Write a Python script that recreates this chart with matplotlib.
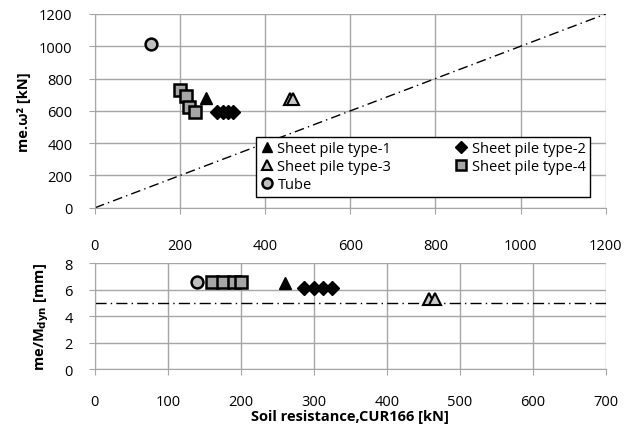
import matplotlib
matplotlib.use('Agg')
import matplotlib.pyplot as plt

# soil resistance CUR166 [kN] vs me.w^2 [kN] (top) and me/Mdyn [mm] (bottom)
type1_x = [261]
type1_top = [680]
type1_bot = [6.5]

type2_x = [287, 300, 313, 325]
type2_top = [594, 594, 594, 594]
type2_bot = [6.1, 6.1, 6.1, 6.1]

type3_x = [458, 466]
type3_top = [675, 675]
type3_bot = [5.3, 5.3]

type4_x = [200, 214, 222, 235]
type4_top = [730, 690, 625, 592]
type4_bot_x = [160, 175, 190, 200]
type4_bot = [6.6, 6.6, 6.6, 6.6]

tube_x_top = [132]
tube_top = [1015]
tube_x_bot = [140]
tube_bot = [6.6]

ref_line = [0, 1200]
bot_limit = 5

plt.rcParams['font.family'] = ['Open Sans', 'DejaVu Sans']
fig = plt.figure(figsize=(6.41, 4.27), dpi=100)
ax1 = fig.add_axes([0.148, 0.511, 0.797, 0.454])
ax2 = fig.add_axes([0.148, 0.133, 0.797, 0.248])

grid_c = '#a6a6a6'
for ax in (ax1, ax2):
    ax.grid(True, color=grid_c, linewidth=1)
    ax.set_axisbelow(True)
    for s in ['top', 'right']:
        ax.spines[s].set_visible(False)
    for s in ['left', 'bottom']:
        ax.spines[s].set_color(grid_c)
    ax.tick_params(colors=grid_c, labelcolor='black', labelsize=10.5, length=4, direction='out')

ms = dict(linestyle='none', markeredgecolor='black')

ax1.plot(ref_line, ref_line, color='black', linestyle=(0, (7, 3, 1, 3)), linewidth=1)
h1, = ax1.plot(type1_x, type1_top, marker='^', color='black', markersize=8, label='Sheet pile type-1', **ms)
h2, = ax1.plot(type2_x, type2_top, marker='D', color='black', markersize=7, label='Sheet pile type-2', **ms)
h3, = ax1.plot(type3_x, type3_top, marker='^', color='#c8c8c8', markersize=9, markeredgewidth=1.5,
               label='Sheet pile type-3', **ms)
h4, = ax1.plot(type4_x, type4_top, marker='s', color='#a6a6a6', markersize=9, markeredgewidth=1.8,
               label='Sheet pile type-4', **ms)
h5, = ax1.plot(tube_x_top, tube_top, marker='o', color='#bfbfbf', markersize=8.5, markeredgewidth=1.8,
               label='Tube', **ms)
ax1.set_xlim(0, 1200)
ax1.set_ylim(0, 1200)
ax1.set_xticks(range(0, 1201, 200))
ax1.set_yticks(range(0, 1201, 200))
ax1.tick_params(axis='x', pad=18)
ax1.tick_params(axis='y', pad=12)
ax1.set_ylabel('me.ω² [kN]', fontweight='bold', fontsize=10.5)
ax1.yaxis.set_label_coords(-0.125, 0.5)

# row-major order like the original legend
handles = [h1, h3, h5, h2, h4]
leg = ax1.legend(handles, [h.get_label() for h in handles], loc='lower right', ncol=2,
                 fontsize=10.5, frameon=True, fancybox=False, edgecolor='black', framealpha=1,
                 handletextpad=0.2, columnspacing=4.3, labelspacing=0.2, handlelength=1.0,
                 borderpad=0.3, markerscale=0.85, bbox_to_anchor=(0.983, 0.02))
leg.get_frame().set_linewidth(1)

ax2.plot([0, 700], [bot_limit, bot_limit], color='black', linestyle=(0, (8, 3, 1, 3)), linewidth=1)
ax2.plot(type1_x, type1_bot, marker='^', color='black', markersize=8, **ms)
ax2.plot(type2_x, type2_bot, marker='D', color='black', markersize=7, **ms)
ax2.plot(type3_x, type3_bot, marker='^', color='#c8c8c8', markersize=9, markeredgewidth=1.5, **ms)
ax2.plot(type4_bot_x, type4_bot, marker='s', color='#a6a6a6', markersize=9, markeredgewidth=1.8, **ms)
ax2.plot(tube_x_bot, tube_bot, marker='o', color='#bfbfbf', markersize=8.5, markeredgewidth=1.8, **ms)
ax2.set_xlim(0, 700)
ax2.set_ylim(0, 8)
ax2.set_xticks(range(0, 701, 100))
ax2.set_yticks(range(0, 9, 2))
ax2.tick_params(axis='x', pad=14)
ax2.tick_params(axis='y', pad=12)
ax2.set_ylabel(r'me/M$_{\mathbf{dyn}}$ [mm]', fontweight='bold', fontsize=10.5)
ax2.yaxis.set_label_coords(-0.085, 0.5)
ax2.set_xlabel('Soil resistance,CUR166 [kN]', fontweight='bold', fontsize=10.5, labelpad=0)

fig.savefig('out.png', dpi=100)
